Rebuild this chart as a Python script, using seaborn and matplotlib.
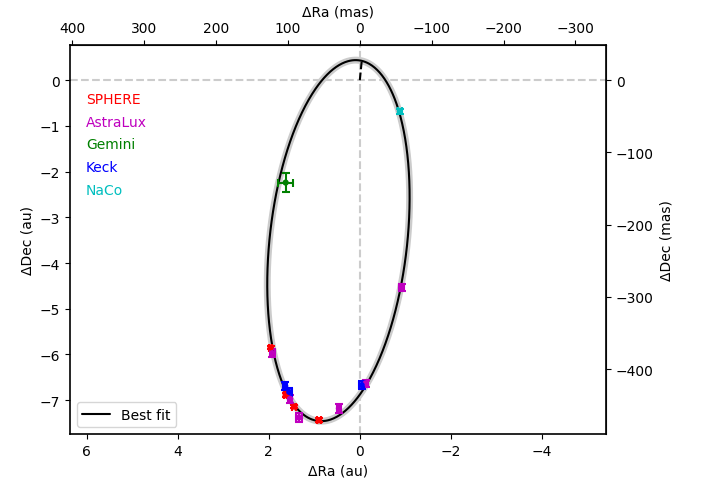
import numpy as np
import pandas as pd
import matplotlib
matplotlib.use("Agg")
import matplotlib.pyplot as plt
import seaborn as sns

# Astrometry (au)
instrument = ["SPHERE", "SPHERE", "SPHERE", "SPHERE", "SPHERE",
              "AstraLux", "AstraLux", "AstraLux", "AstraLux", "AstraLux", "AstraLux",
              "Gemini", "Keck", "Keck", "Keck", "NaCo"]
ra_au = [1.96, 1.63, 1.44, 0.90, 1.60,
         1.92, 1.53, 1.34, 0.46, -0.13, -0.92,
         1.63, 1.64, 1.55, -0.04, -0.88]
dec_au = [-5.85, -6.89, -7.14, -7.44, -6.86,
          -5.97, -6.97, -7.38, -7.18, -6.63, -4.53,
          -2.24, -6.69, -6.82, -6.67, -0.68]
ra_err = [0.04, 0.04, 0.04, 0.04, 0.04,
          0.05, 0.05, 0.06, 0.05, 0.05, 0.05,
          0.17, 0.05, 0.05, 0.05, 0.04]
dec_err = [0.04, 0.04, 0.04, 0.04, 0.04,
           0.09, 0.09, 0.09, 0.10, 0.08, 0.08,
           0.20, 0.08, 0.08, 0.08, 0.05]

colors = {"SPHERE": "r", "AstraLux": "m", "Gemini": "g", "Keck": "b", "NaCo": "c"}

# best-fit projected orbit (sky ellipse), au
center = (0.47, -3.51)
semi_major = 3.97
semi_minor = 1.51
tilt_deg = 96.4
# short dashed line from the star to the periastron
peri = (-0.04, 0.40)

mas_per_au = 63.3

df = pd.DataFrame({"ra": ra_au, "dec": dec_au, "era": ra_err, "edec": dec_err, "inst": instrument})

t = np.linspace(0, 2 * np.pi, 600)
phi = np.deg2rad(tilt_deg)
ux, uy = -np.cos(phi), -np.sin(phi)
vx, vy = np.sin(phi), -np.cos(phi)
orbit = pd.DataFrame({
    "x": center[0] + semi_major * np.cos(t) * ux + semi_minor * np.sin(t) * vx,
    "y": center[1] + semi_major * np.cos(t) * uy + semi_minor * np.sin(t) * vy,
})

sns.set_style("ticks")
plt.rcParams["font.family"] = ["DejaVu Sans"]
plt.rcParams.update({"text.color": "k", "axes.labelcolor": "k",
                     "xtick.color": "k", "ytick.color": "k"})

fig = plt.figure(figsize=(7.02, 4.81), dpi=100)
ax = fig.add_axes([0.0997, 0.0956, 0.7635, 0.8088])

ax.axhline(0, color="0.8", ls="--", lw=1.5, zorder=0)
ax.axvline(0, color="0.8", ls="--", lw=1.5, zorder=0)

sns.lineplot(data=orbit, x="x", y="y", sort=False, color="0.8", lw=5, ax=ax, zorder=1)
sns.lineplot(data=orbit, x="x", y="y", sort=False, color="k", lw=1.5, ax=ax,
             label="Best fit", zorder=2)
ax.plot([0, peri[0]], [0, peri[1]], color="k", ls="--", lw=1.5, zorder=2)

for name, g in df.groupby("inst", sort=False):
    ax.errorbar(g["ra"], g["dec"], xerr=g["era"], yerr=g["edec"], fmt="none",
                ecolor=colors[name], elinewidth=1.5, capsize=3, capthick=1.5, zorder=3)
sns.scatterplot(data=df, x="ra", y="dec", hue="inst", palette=colors, s=20,
                marker="o", edgecolor="none", legend=False, ax=ax, zorder=4)

for i, name in enumerate(colors):
    ax.text(0.03, 0.861 - i * 0.0584, name, color=colors[name], fontsize=10,
            transform=ax.transAxes, va="center")

ax.set_xlim(6.37, -5.41)
ax.set_ylim(-7.74, 0.77)
ax.set_xlabel("ΔRa (au)")
ax.set_ylabel("ΔDec (au)")
ax.set_xticks([6, 4, 2, 0, -2, -4])
ax.legend(loc="lower left", fontsize=10)

top = ax.secondary_xaxis("top", functions=(lambda v: v * mas_per_au, lambda v: v / mas_per_au))
top.set_xlabel("ΔRa (mas)")
right = ax.secondary_yaxis("right", functions=(lambda v: v * mas_per_au, lambda v: v / mas_per_au))
right.set_ylabel("ΔDec (mas)")

for a in (ax, top, right):
    a.tick_params(direction="out", length=3.5, width=0.8, labelsize=10, colors="k")
for s in ax.spines.values():
    s.set_linewidth(1.2)
    s.set_color("k")

fig.savefig("out.png", dpi=100)
